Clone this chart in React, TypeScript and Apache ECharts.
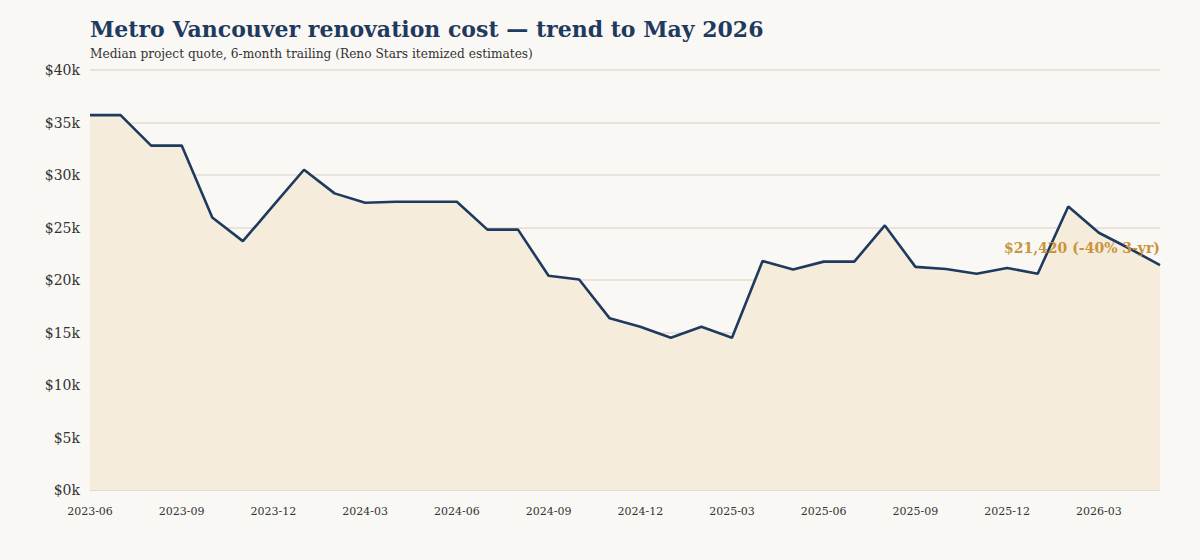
import React, { useEffect, useRef } from "react";
import * as echarts from "echarts";

const months: string[] = [
  "2023-06", "2023-07", "2023-08", "2023-09", "2023-10", "2023-11",
  "2023-12", "2024-01", "2024-02", "2024-03", "2024-04", "2024-05",
  "2024-06", "2024-07", "2024-08", "2024-09", "2024-10", "2024-11",
  "2024-12", "2025-01", "2025-02", "2025-03", "2025-04", "2025-05",
  "2025-06", "2025-07", "2025-08", "2025-09", "2025-10", "2025-11",
  "2025-12", "2026-01", "2026-02", "2026-03", "2026-04", "2026-05",
];

// median quote, thousands of CAD
const medianQuoteK: number[] = [
  35.7, 35.7, 32.8, 32.8, 25.95, 23.7,
  27.1, 30.5, 28.25, 27.35, 27.45, 27.45,
  27.45, 24.8, 24.8, 20.4, 20.05, 16.35,
  15.55, 14.5, 15.55, 14.5, 21.8, 21.0,
  21.75, 21.75, 25.2, 21.25, 21.05, 20.6,
  21.15, 20.6, 27.0, 24.5, 23.0, 21.42,
];

const yTicks: number[] = [0, 5, 10, 15, 20, 25, 30, 35, 40];

const TITLE = "Metro Vancouver renovation cost \u2014 trend to May 2026";
const SUBTITLE = "Median project quote, 6-month trailing (Reno Stars itemized estimates)";
const ANNOTATION = "$21,420 (-40% 3-yr)";

const FONT = "Georgia, 'DejaVu Serif', serif";

export default function App() {
  const ref = useRef<HTMLDivElement>(null);
  useEffect(() => {
    document.body.style.margin = "0";
    if (!ref.current) return;
    const chart = echarts.init(ref.current, undefined, { renderer: "svg" });
    const last = months.length - 1;
    chart.setOption({
      animation: false,
      backgroundColor: "#faf8f4",
      textStyle: { fontFamily: FONT },
      title: {
        text: TITLE,
        subtext: SUBTITLE,
        left: 85,
        top: 13,
        itemGap: 8,
        textStyle: { fontFamily: FONT, fontSize: 22, fontWeight: "bold", color: "#1f3a5f" },
        subtextStyle: { fontFamily: FONT, fontSize: 12.2, color: "#333333" },
      },
      grid: { left: 90, right: 40, top: 70, bottom: 70 },
      xAxis: {
        type: "category",
        data: months,
        boundaryGap: false,
        axisLine: { show: true, lineStyle: { color: "#e3ddd0" } },
        axisTick: { show: false },
        axisLabel: {
          interval: 2,
          color: "#333333",
          fontSize: 11,
          fontFamily: FONT,
          margin: 16,
        },
        splitLine: { show: false },
      },
      yAxis: {
        type: "value",
        min: yTicks[0],
        max: yTicks[yTicks.length - 1],
        interval: 5,
        axisLine: { show: false },
        axisTick: { show: false },
        axisLabel: {
          color: "#333333",
          fontSize: 14,
          fontFamily: FONT,
          margin: 10,
          formatter: (v: number) => "$" + v + "k",
        },
        splitLine: { lineStyle: { color: "#e3ddd0", width: 1.5 } },
      },
      series: [
        {
          type: "line",
          data: medianQuoteK,
          symbol: "none",
          lineStyle: { color: "#1f3a5f", width: 2.6 },
          areaStyle: { color: "#f5ecdc", opacity: 1 },
          z: 3,
          markPoint: {
            symbol: "circle",
            symbolSize: 0,
            data: [
              {
                coord: [months[last], medianQuoteK[last]],
                label: {
                  show: true,
                  formatter: ANNOTATION,
                  position: "inside",
                  align: "right",
                  verticalAlign: "bottom",
                  offset: [0, -10],
                  color: "#c9943a",
                  fontFamily: FONT,
                  fontWeight: "bold",
                  fontSize: 14,
                },
              },
            ],
          },
        },
      ],
    });
    return () => chart.dispose();
  }, []);
  return <div ref={ref} style={{ width: 1200, height: 560 }} />;
}
